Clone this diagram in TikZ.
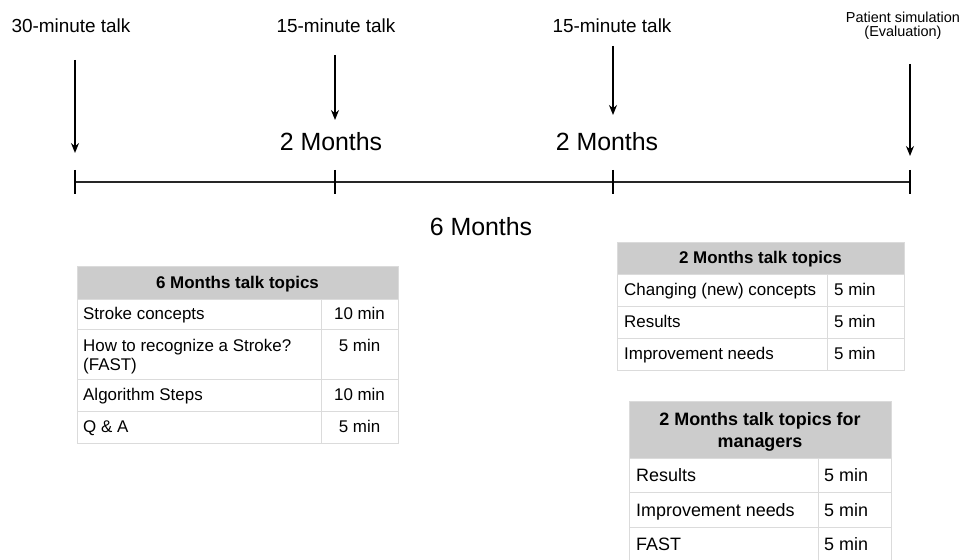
\documentclass[tikz,border=0pt]{standalone}
\usepackage{fontspec}
\setmainfont{Liberation Sans}
\usetikzlibrary{arrows.meta}
\tikzset{
  toplbl/.style={font=\fontsize{19}{21}\selectfont, inner sep=0pt},
  smalllbl/.style={font=\fontsize{14.5}{16}\selectfont, inner sep=0pt},
  biglbl/.style={font=\fontsize{25}{28}\selectfont, inner sep=0pt},
  tcell/.style={font=\fontsize{17}{19}\selectfont, inner sep=0pt, anchor=west, text height=12.2bp, text depth=0.4bp},
  tval/.style={font=\fontsize{17}{19}\selectfont, inner sep=0pt, text height=12.2bp, text depth=0.4bp},
  thead/.style={font=\bfseries\fontsize{17}{19}\selectfont, inner sep=0pt, text height=12.2bp, text depth=0.4bp},
  tcellL/.style={font=\fontsize{18}{21}\selectfont, inner sep=0pt, anchor=west, text height=13bp, text depth=0.4bp},
  theadL/.style={font=\bfseries\fontsize{18}{21}\selectfont, inner sep=0pt, text height=13bp, text depth=0.4bp},
  gridline/.style={draw=black!14, line width=0.9bp},
  hdrfill/.style={fill=black!20},
  arr/.style={-{Stealth[length=10bp,width=8bp]}, line width=1.5bp},
  axisline/.style={line width=2.8bp, draw=black!85},
  tickline/.style={line width=2bp},
}
\begin{document}
\begin{tikzpicture}[x=1bp,y=-1bp]
\useasboundingbox (0,0) rectangle (963,560);

% ---- timeline ----
\coordinate (t0) at (75,182);
\coordinate (t1) at (335,182);
\coordinate (t2) at (613,182);
\coordinate (t3) at (910,182);
\draw[axisline] (t0) -- (t3);
\foreach \t in {t0,t1,t2,t3}{
  \draw[tickline] (\t) ++(0,-12) -- ++(0,24);
}

% arrows
\coordinate (s0) at (75,60);   \coordinate (e0) at (75,153);
\coordinate (s1) at (335,55);  \coordinate (e1) at (335,120);
\coordinate (s2) at (613,46);  \coordinate (e2) at (613,115);
\coordinate (s3) at (910,64);  \coordinate (e3) at (910,156);
\draw[arr] (s0) -- (e0);
\draw[arr] (s1) -- (e1);
\draw[arr] (s2) -- (e2);
\draw[arr] (s3) -- (e3);

% labels
\node[toplbl] (l0) at (71,26) {30-minute talk};
\node[toplbl] (l1) at (336,26) {15-minute talk};
\node[toplbl] (l2) at (612,26) {15-minute talk};
\node[smalllbl] (l3a) at (903,17) {Patient simulation};
\node[smalllbl] (l3b) at (903,33) {(Evaluation)};
\node[biglbl] (m1) at (331,142) {2 Months};
\node[biglbl] (m2) at (607,142) {2 Months};
\node[biglbl] (m6) at (481,227) {6 Months};

% ---- table 1 ----
\fill[hdrfill] (77,266) rectangle (398,299);
\draw[gridline] (77,266) rectangle (398,443);
\foreach \yy in {299,329,379,411} \draw[gridline] (77,\yy) -- (398,\yy);
\draw[gridline] (321,299) -- (321,443);
\node[thead] (h1) at (237.5,283) {6 Months talk topics};
\node[tcell] (a1) at (83,314) {Stroke concepts};
\node[tval]  (b1) at (359.5,314) {10 min};
\node[tcell] (a2) at (83,346) {How to recognize a Stroke?};
\node[tcell] (a2b) at (83,365) {(FAST)};
\node[tval]  (b2) at (359.5,346) {5 min};
\node[tcell] (a3) at (83,395) {Algorithm Steps};
\node[tval]  (b3) at (359.5,395) {10 min};
\node[tcell] (a4) at (83,427) {Q \& A};
\node[tval]  (b4) at (359.5,427) {5 min};

% ---- table 2 ----
\fill[hdrfill] (617,242) rectangle (904,274);
\draw[gridline] (617,242) rectangle (904,370);
\foreach \yy in {274,306,338} \draw[gridline] (617,\yy) -- (904,\yy);
\draw[gridline] (827,274) -- (827,370);
\node[thead] (h2) at (760.5,258) {2 Months talk topics};
\node[tcell] (c1) at (624,290) {Changing (new) concepts};
\node[tcell] (d1) at (834,290) {5 min};
\node[tcell] (c2) at (624,322) {Results};
\node[tcell] (d2) at (834,322) {5 min};
\node[tcell] (c3) at (624,354) {Improvement needs};
\node[tcell] (d3) at (834,354) {5 min};

% ---- table 3 ----
\fill[hdrfill] (629,401) rectangle (891,458);
\draw[gridline] (629,560) -- (629,401) -- (891,401) -- (891,560);
\foreach \yy in {458,492,527} \draw[gridline] (629,\yy) -- (891,\yy);
\draw[gridline] (818,458) -- (818,560);
\node[theadL] (h3a) at (760,419) {2 Months talk topics for};
\node[theadL] (h3b) at (760,441) {managers};
\node[tcellL] (e1t) at (636,475) {Results};
\node[tcellL] (f1) at (824,475) {5 min};
\node[tcellL] (e2t) at (636,510) {Improvement needs};
\node[tcellL] (f2) at (824,510) {5 min};
\node[tcellL] (e3t) at (636,544) {FAST};
\node[tcellL] (f3) at (824,544) {5 min};
\end{tikzpicture}
\end{document}
